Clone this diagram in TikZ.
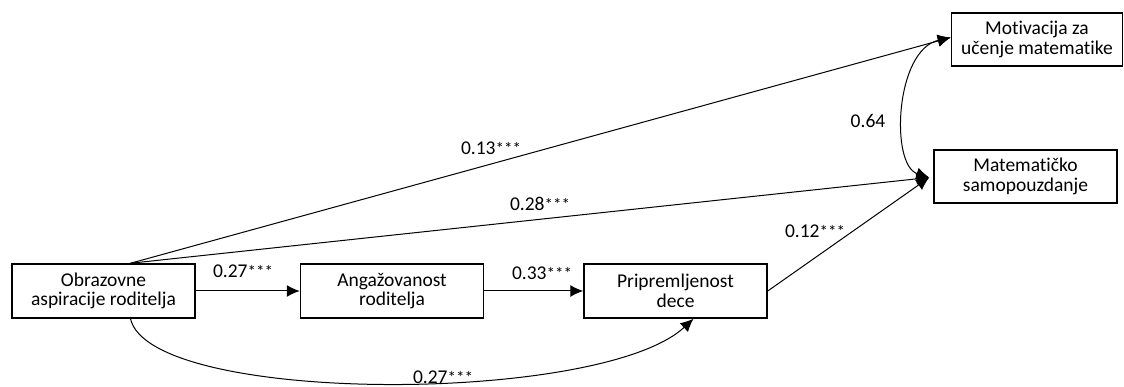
\documentclass[tikz,border=0pt]{standalone}
\usepackage{fontspec}
\setmainfont[Ligatures=NoCommon]{Carlito}
\usetikzlibrary{arrows.meta,calc}
\newcommand{\sig}{{\fontsize{17}{17}\selectfont ***}}
\begin{document}
\begin{tikzpicture}[x=1pt,y=-1pt,
  var/.style={draw,line width=1.5pt,minimum width=183pt,minimum height=54pt,
    align=center,inner sep=0pt,font=\fontsize{19.5}{19.5}\selectfont},
  effect/.style={line width=1pt,-{Latex[length=13pt,width=12pt]}},
  corr/.style={line width=1pt,{Latex[length=13pt,width=12pt]}-{Latex[length=13pt,width=12pt]}},
  coef/.style={font=\fontsize{19.5}{19.5}\selectfont,inner sep=0pt}]
\useasboundingbox (0,0) rectangle (1124,387);

% variables
\node[var] (asp) at (103.5,291) {Obrazovne\\aspiracije roditelja};
\node[var] (eng) at (392,291) {Angažovanost\\roditelja};
\node[var] (prep) at (675.5,291) {Pripremljenost\\dece};
\node[var,minimum width=171pt,minimum height=53pt] (mot) at (1037,39.5) {Motivacija za\\učenje matematike};
\node[var,minimum height=53pt] (conf) at (1025.5,176.5) {Matematičko\\samopouzdanje};

% connector ends
\coordinate (aspTop) at ([xshift=27pt]asp.north);
\coordinate (aspBot) at ([xshift=27pt]asp.south);
\coordinate (prepBot) at ([xshift=18pt]prep.south);
\coordinate (motIn) at ([yshift=2pt]mot.west);
\coordinate (confIn) at ([xshift=-4pt,yshift=-1pt]conf.west);

% paths
\draw[effect] (asp) -- (eng);
\draw[effect] (eng) -- (prep);
\draw[effect] (prep.east) -- (confIn);
\draw[effect] (aspTop) -- (motIn);
\draw[effect] (aspTop) -- (confIn);
\draw[effect] (aspBot) .. controls (150,405) and (600,405) .. (prepBot);
\draw[corr] (motIn) .. controls (895,50) and (890,165) .. (confIn);

% coefficients
\node[coef] (c1) at (243,271) {0.27\sig};
\node[coef] (c2) at (542,273) {0.33\sig};
\node[coef] (c3) at (491,148) {0.13\sig};
\node[coef] (c4) at (540,204) {0.28\sig};
\node[coef] (c5) at (815,231) {0.12\sig};
\node[coef] (c6) at (868,121) {0.64};
\node[coef] (c7) at (443,377) {0.27\sig};
\end{tikzpicture}
\end{document}
